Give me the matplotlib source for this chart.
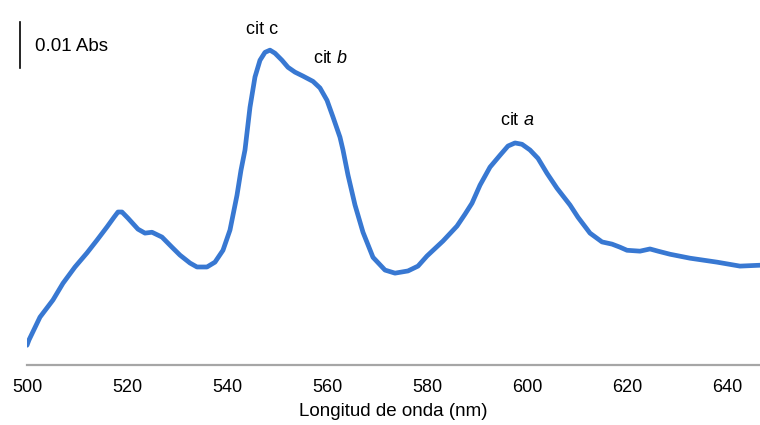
import matplotlib
matplotlib.use("Agg")
import matplotlib.pyplot as plt

# Espectro diferencial (longitud de onda en nm, absorbancia en mAbs)
wavelength = [500.0, 500.4, 502.6, 505.2, 507.2, 509.6, 512.0, 514.0, 516.0, 517.4,
              518.2, 519.0, 520.2, 522.2, 523.6, 525.0, 527.0, 529.0, 530.6, 532.6,
              534.0, 536.0, 537.6, 539.2, 540.6, 542.0, 542.8, 543.6, 544.6, 545.6,
              546.6, 547.6, 548.6, 549.6, 551.0, 552.2, 553.6, 555.2, 557.2, 558.6,
              560.0, 561.2, 562.6, 563.2, 564.2, 565.6, 567.2, 569.2, 571.6, 573.6,
              576.2, 578.2, 580.0, 583.2, 586.0, 587.6, 589.0, 590.6, 592.6, 594.6,
              596.2, 597.6, 599.0, 600.6, 602.2, 604.0, 606.0, 608.6, 610.2, 612.6,
              615.0, 617.0, 618.6, 620.0, 622.6, 624.6, 626.2, 628.6, 632.6, 638.0,
              642.6, 646.6]
absorbance = [4.5, 5.7, 10.9, 14.8, 18.6, 22.3, 25.5, 28.4, 31.4, 33.6,
              34.8, 34.8, 33.4, 30.9, 30.0, 30.2, 29.1, 26.8, 25.0, 23.2,
              22.3, 22.3, 23.4, 26.1, 30.7, 38.6, 44.3, 48.9, 58.6, 65.5,
              69.3, 71.1, 71.6, 70.9, 69.3, 67.7, 66.6, 65.7, 64.5, 63.0,
              60.2, 56.4, 51.8, 48.9, 43.2, 36.4, 30.2, 24.5, 21.6, 20.9,
              21.4, 22.5, 24.8, 28.2, 31.6, 34.3, 36.8, 40.9, 45.0, 47.7,
              49.8, 50.5, 50.2, 48.9, 47.0, 43.6, 40.2, 36.4, 33.6, 30.0,
              28.0, 27.5, 26.8, 26.1, 25.9, 26.4, 25.9, 25.2, 24.3, 23.4,
              22.5, 22.7]
xticks = [500, 520, 540, 560, 580, 600, 620, 640]

# etiquetas de los picos: (texto, x, y)
peaks = [("cit c", 547.0, 76.3), (r"cit $\it{b}$", 560.6, 69.8), (r"cit $\it{a}$", 598.0, 55.5)]

plt.rcParams["font.family"] = ["Liberation Sans", "DejaVu Sans"]
plt.rcParams["mathtext.fontset"] = "custom"
plt.rcParams["mathtext.it"] = "Liberation Sans:italic"
plt.rcParams["mathtext.rm"] = "Liberation Sans"

fig = plt.figure(figsize=(7.6, 4.25), dpi=100)
ax = fig.add_axes([0.0355, 0.141, 0.9645, 0.859])

ax.plot(wavelength, absorbance, color="#3878D2", linewidth=3.4,
        solid_capstyle="round", solid_joinstyle="round")

ax.set_xlim(500, 646.6)
ax.set_ylim(0, 83)
ax.set_xticks(xticks)
ax.tick_params(axis="x", length=0, pad=10, labelsize=13)
ax.set_yticks([])
for side in ["top", "right", "left"]:
    ax.spines[side].set_visible(False)
ax.spines["bottom"].set_color("#A6A6A6")
ax.spines["bottom"].set_linewidth(1.6)
ax.set_xlabel("Longitud de onda (nm)", fontsize=13.5, labelpad=5)

# barra de escala 0.01 Abs
ax.plot([498.6, 498.6], [67.5, 78.0], color="black", linewidth=1.2, clip_on=False)
ax.text(501.6, 72.5, "0.01 Abs", fontsize=13.5, va="center", ha="left")

for label, x, y in peaks:
    ax.text(x, y, label, fontsize=13, ha="center", va="center")

fig.savefig("out.png", dpi=100)
